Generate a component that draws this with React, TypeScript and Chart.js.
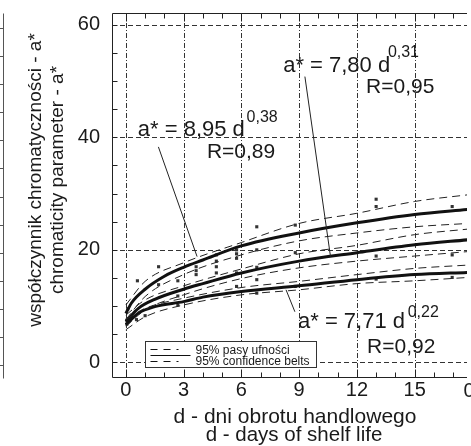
import React, { useEffect, useRef } from 'react';
import { Chart, registerables } from 'chart.js';
Chart.register(...registerables);

const FONT = '"Liberation Sans", Arial, Helvetica, sans-serif';
const INK = '#1a1a1a';

// axis ticks
const xTickValues = [0, 3, 6, 9, 12, 15];
const yTickValues = [0, 20, 40, 60];
const xMinorStep = 1;
const yMinorStep = 5;
const xRange = [-0.72, 17.72];
const yRange = [-2.6, 62.1];

// fitted curves
const topCurveDays = [0, 0.3, 1, 2, 3, 4, 6, 9, 12, 15, 17.8];
const topCurveValues = [8.7, 10.6, 13.0, 15.3, 16.9, 18.2, 20.7, 23.0, 24.8, 26.3, 27.2];
const midCurveDays = [0, 0.65, 1.5, 3, 4, 6, 9, 12, 15, 17.8];
const midCurveValues = [7.25, 9.6, 11.2, 13.0, 14.0, 15.9, 18.0, 19.5, 20.9, 21.8];
const botCurveDays = [0, 0.65, 1.5, 3, 4, 6, 9, 12, 15, 17.8];
const botCurveValues = [6.7, 8.75, 9.9, 10.8, 11.6, 12.6, 13.6, 14.7, 15.6, 16.0];

// 95% confidence belts
const bandDays = [0, 1, 3, 6, 9, 12, 15, 17.8];
const topUpper = [10.2, 14.4, 17.7, 21.3, 24.7, 26.5, 28.6, 29.8];
const topLower = [7.6, 11.7, 15.6, 19.1, 21.6, 23.0, 24.1, 24.7];
const midUpper = [8.4, 11.1, 13.6, 16.6, 19.3, 20.8, 22.7, 23.7];
const midLower = [6.4, 9.3, 12.0, 14.9, 16.8, 18.0, 18.9, 19.7];
const botUpper = [7.6, 9.6, 11.4, 13.3, 14.4, 15.6, 16.7, 17.3];
const botLower = [5.8, 8.1, 10.2, 12.0, 12.9, 14.0, 14.5, 15.1];

// measured points
const pointDays = [0.05, 0.05, 0.1, 0.3, 0.6, 0.55, 1.0, 1.7, 1.7, 2.7, 2.7, 2.7, 3.65, 3.65, 3.65, 4.7, 4.7, 4.7, 4.7, 5.75, 5.75, 5.75, 5.75, 5.75, 6.8, 6.8, 6.8, 6.8, 6.8, 8.8, 8.8, 8.8, 13.0, 13.0, 13.0, 13.0, 16.95, 16.95, 16.95];
const pointValues = [6.8, 7.5, 9.5, 8.1, 14.5, 7.6, 8.3, 17.0, 13.8, 14.5, 11.8, 10.2, 15.6, 16.3, 17.0, 15.9, 17.0, 18.0, 19.1, 18.5, 19.3, 20.0, 15.9, 13.5, 24.1, 20.0, 16.9, 14.7, 12.3, 24.4, 19.5, 13.5, 29.0, 27.7, 18.9, 14.8, 27.7, 19.1, 15.1];

// equations
const annotations = [
  { main: 'a* = 8,95 d', sup: '0,38', r: 'R=0,89', mainAt: [0.62, 40.27], supAt: [6.27, 42.76], rAt: [4.21, 36.36], leader: [[1.69, 38.3], [3.7, 18.8]] },
  { main: 'a* = 7,80 d', sup: '0,31', r: 'R=0,95', mainAt: [8.17, 51.64], supAt: [13.61, 54.31], rAt: [12.48, 47.91], leader: [[9.3, 50.8], [10.63, 18.8]] },
  { main: 'a* = 7,71 d', sup: '0,22', r: 'R=0,92', mainAt: [8.94, 6.13], supAt: [14.64, 8.09], rAt: [12.53, 1.69], leader: [[8.78, 9.0], [8.32, 12.9]] },
];

const legendLines = ['95% pasy ufności', '95% confidence belts'];
const xTitle = ['d - dni obrotu handlowego', 'd - days of shelf life'];
const yTitle = ['współczynnik chromatyczności - a*', 'chromaticity parameter - a*'];

const toXY = (xs: number[], ys: number[]) => xs.map((x, i) => ({ x, y: ys[i] }));

const decorPlugin = {
  id: 'decor',
  beforeDatasetsDraw(chart: any) {
    const { ctx, chartArea: ca, scales } = chart;
    const xs = scales.x, ys = scales.y;
    ctx.save();
    ctx.lineWidth = 1;
    ctx.strokeStyle = '#333';
    // horizontal grid
    ctx.setLineDash([5, 3]);
    yTickValues.forEach((v) => {
      const y = Math.round(ys.getPixelForValue(v)) + 0.5;
      ctx.beginPath(); ctx.moveTo(ca.left, y); ctx.lineTo(ca.right, y); ctx.stroke();
    });
    // vertical grid (dash-dot)
    ctx.setLineDash([5, 2, 1, 2]);
    xTickValues.forEach((v) => {
      const x = Math.round(xs.getPixelForValue(v)) + 0.5;
      ctx.beginPath(); ctx.moveTo(x, ca.top); ctx.lineTo(x, ca.bottom); ctx.stroke();
    });
    ctx.setLineDash([]);
    ctx.strokeStyle = '#222';
    // frame
    const L = Math.round(ca.left) + 0.5, T = Math.round(ca.top) + 0.5, B = Math.round(ca.bottom) + 0.5;
    ctx.beginPath();
    ctx.moveTo(ca.right, T); ctx.lineTo(L, T); ctx.lineTo(L, B); ctx.lineTo(ca.right, B);
    ctx.stroke();
    // minor ticks
    for (let v = 0; v <= yRange[1]; v += yMinorStep) {
      const y = Math.round(ys.getPixelForValue(v)) + 0.5;
      ctx.beginPath(); ctx.moveTo(L, y); ctx.lineTo(L + 5, y); ctx.stroke();
    }
    for (let d = 0; d <= xRange[1]; d += xMinorStep) {
      const x = Math.round(xs.getPixelForValue(d)) + 0.5;
      const len = d % 3 === 0 ? 8 : 5;
      ctx.beginPath(); ctx.moveTo(x, B); ctx.lineTo(x, B - len); ctx.stroke();
      ctx.beginPath(); ctx.moveTo(x, T); ctx.lineTo(x, T + len); ctx.stroke();
    }
    // neighbouring panel's right axis
    ctx.strokeStyle = '#555';
    ctx.beginPath(); ctx.moveTo(3.5, T); ctx.lineTo(3.5, B + 1); ctx.stroke();
    for (let v = 0; v <= yRange[1]; v += yMinorStep) {
      const y = Math.round(ys.getPixelForValue(v)) + 3.5;
      ctx.beginPath(); ctx.moveTo(0, y); ctx.lineTo(3.5, y); ctx.stroke();
    }
    ctx.restore();
  },
  afterDatasetsDraw(chart: any) {
    const { ctx, chartArea: ca, scales } = chart;
    const xs = scales.x, ys = scales.y;
    const px = (p: number[]) => [xs.getPixelForValue(p[0]), ys.getPixelForValue(p[1])];
    ctx.save();
    // leader lines
    ctx.strokeStyle = '#222';
    ctx.lineWidth = 1;
    annotations.forEach((a) => {
      const [x1, y1] = px(a.leader[0]);
      const [x2, y2] = px(a.leader[1]);
      ctx.beginPath(); ctx.moveTo(x1, y1); ctx.lineTo(x2, y2); ctx.stroke();
    });
    // equation texts
    ctx.fillStyle = INK;
    ctx.textBaseline = 'alphabetic';
    ctx.textAlign = 'left';
    annotations.forEach((a) => {
      ctx.font = `22px ${FONT}`;
      let [x, y] = px(a.mainAt);
      ctx.fillText(a.main, x, y);
      ctx.font = `21px ${FONT}`;
      [x, y] = px(a.rAt);
      ctx.fillText(a.r, x, y);
      ctx.font = `16px ${FONT}`;
      [x, y] = px(a.supAt);
      ctx.fillText(a.sup, x, y);
    });
    // legend box
    const bx = Math.round(ca.left + 33) + 0.5, by = Math.round(ca.bottom - 36) + 0.5;
    const bw = 171, bh = 26;
    ctx.fillStyle = '#fff';
    ctx.fillRect(bx, by, bw, bh);
    ctx.strokeStyle = '#333';
    ctx.strokeRect(bx, by, bw, bh);
    ctx.strokeStyle = '#111';
    ctx.setLineDash([7, 6]);
    [by + 8, by + 20].forEach((y) => {
      ctx.beginPath(); ctx.moveTo(bx + 5, y); ctx.lineTo(bx + 33, y); ctx.stroke();
    });
    ctx.setLineDash([]);
    ctx.beginPath(); ctx.moveTo(bx + 5, by + 14); ctx.lineTo(bx + 45, by + 14); ctx.stroke();
    ctx.fillStyle = INK;
    ctx.font = `12px ${FONT}`;
    ctx.fillText(legendLines[0], bx + 50, by + 12);
    ctx.fillText(legendLines[1], bx + 50, by + 23.5);
    // axis titles
    ctx.textAlign = 'center';
    ctx.font = `21px ${FONT}`;
    ctx.fillText(xTitle[0], 295, 423);
    ctx.font = `20.5px ${FONT}`;
    ctx.fillText(xTitle[1], 294, 441);
    // clipped label at the right edge
    ctx.font = `20px ${FONT}`;
    ctx.fillText('0', 469, ca.bottom + 4 + 16);
    ctx.save();
    ctx.translate(0, 180);
    ctx.rotate(-Math.PI / 2);
    ctx.font = `19px ${FONT}`;
    ctx.fillText(yTitle[0], 0, 41);
    ctx.fillText(yTitle[1], 0, 63);
    ctx.restore();
    ctx.restore();
  },
};

export default function App() {
  const ref = useRef<HTMLCanvasElement>(null);
  useEffect(() => {
    document.body.style.margin = '0';
    const canvas = ref.current!;
    const curve = (xs: number[], vs: number[]) => ({
      data: toXY(xs, vs), showLine: true, borderColor: '#111', borderWidth: 3,
      pointRadius: 0, cubicInterpolationMode: 'monotone', fill: false,
    });
    const band = (vs: number[]) => ({
      data: toXY(bandDays, vs), showLine: true, borderColor: '#222', borderWidth: 1,
      borderDash: [8, 5], pointRadius: 0, cubicInterpolationMode: 'monotone', fill: false,
    });
    const chart = new Chart(canvas, {
      type: 'scatter',
      data: {
        datasets: [
          band(topUpper), band(topLower), band(midUpper), band(midLower), band(botUpper), band(botLower),
          curve(topCurveDays, topCurveValues), curve(midCurveDays, midCurveValues), curve(botCurveDays, botCurveValues),
          {
            data: toXY(pointDays, pointValues), showLine: false, pointStyle: 'rect', pointRadius: 2.2,
            backgroundColor: '#333', borderColor: '#333', borderWidth: 0,
          },
        ] as any,
      },
      options: {
        animation: false,
        responsive: false,
        layout: { padding: { top: 13, left: 0, right: 0, bottom: 0 } },
        plugins: { legend: { display: false }, tooltip: { enabled: false } },
        scales: {
          x: {
            type: 'linear', min: xRange[0], max: xRange[1],
            grid: { display: false, drawTicks: false }, border: { display: false },
            afterBuildTicks: (s: any) => { s.ticks = xTickValues.map((v) => ({ value: v })); },
            afterFit: (s: any) => { s.height = 69; s.paddingLeft = 0; s.paddingRight = 0; },
            ticks: { font: { family: FONT, size: 20 }, color: INK, padding: 1, maxRotation: 0, autoSkip: false },
          },
          y: {
            type: 'linear', min: yRange[0], max: yRange[1],
            grid: { display: false, drawTicks: false }, border: { display: false },
            afterBuildTicks: (s: any) => { s.ticks = yTickValues.map((v) => ({ value: v })); },
            afterFit: (s: any) => { s.width = 112; s.paddingTop = 0; s.paddingBottom = 0; },
            ticks: { font: { family: FONT, size: 20 }, color: INK, padding: 12, autoSkip: false },
          },
        },
      } as any,
      plugins: [decorPlugin],
    });
    return () => chart.destroy();
  }, []);
  return (
    <div style={{ width: 471, height: 446, overflow: 'hidden' }}>
      <canvas ref={ref} width={471} height={446} style={{ display: 'block' }} />
    </div>
  );
}
